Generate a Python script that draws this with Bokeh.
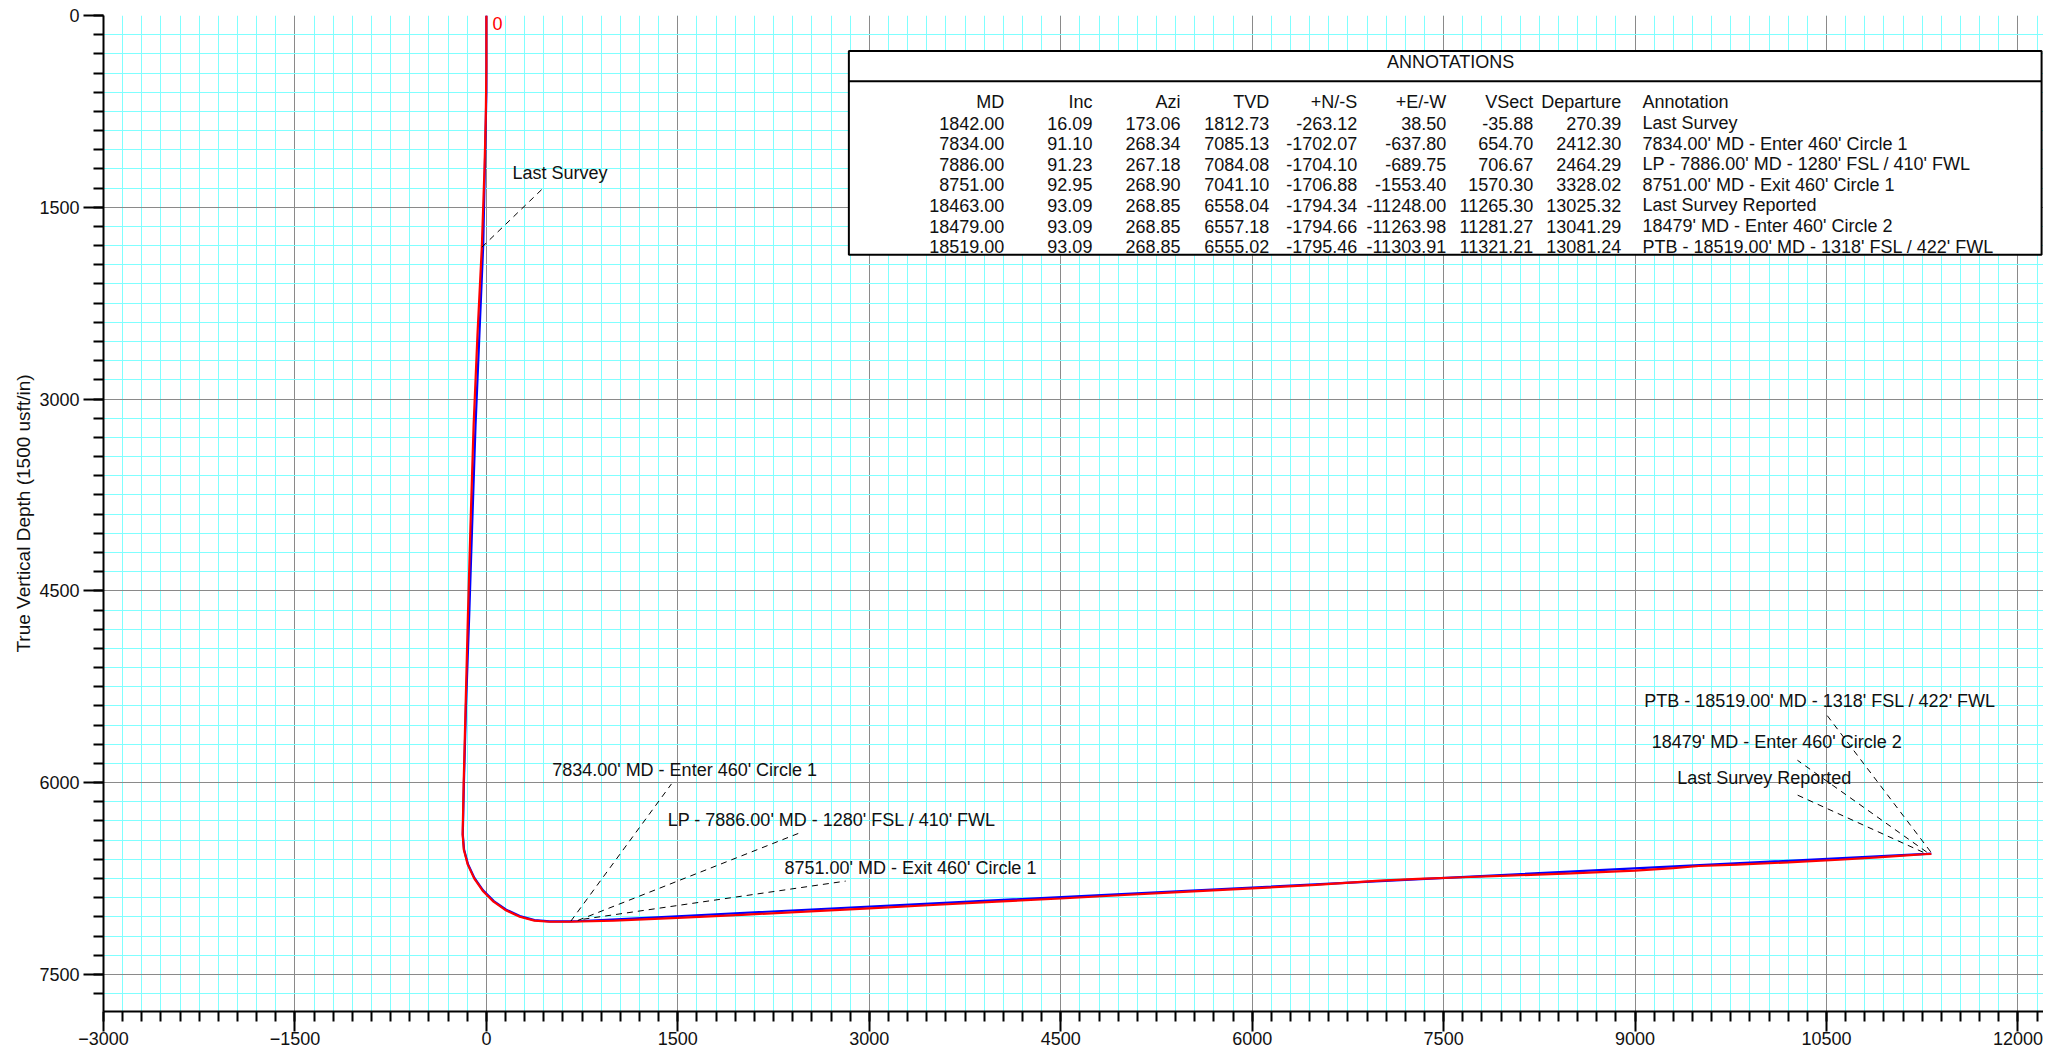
from bokeh.plotting import figure
from bokeh.models import Range1d, SingleIntervalTicker, Label
from bokeh.core.properties import value
from bokeh.embed import file_html
from bokeh.resources import INLINE

FONT = "Liberation Sans"

# ---------------- data ----------------
# planned well path (blue): vertical section vs true vertical depth
plan_vs = [0, 0, -8, -25, -55, -85, -112, -135, -160, -176, -185,
           -175, -144, -94, -26, 58, 155, 262, 377, 495,
           654.70, 706.67, 1570.30, 11281.27, 11321.21]
plan_tvd = [0, 600, 1000, 1800, 2500, 3200, 4000, 4700, 5400, 6000, 6405,
            6523, 6638, 6745, 6842, 6926, 6994, 7044, 7075, 7085,
            7085.13, 7084.08, 7041.10, 6557.18, 6555.02]

# actual well path (red)
act_vs = [0, 0, -5, -15, -35.88, -70, -100, -125, -145, -163, -178, -186,
          -177, -146, -96, -28, 56, 153, 261, 376, 495,
          654.70, 1000, 1500, 2000, 2500, 3000, 3500, 4000, 4500, 5000, 5500,
          6000, 6500, 7000, 7300, 7600, 8000, 8500, 9000, 9300, 9500, 9800,
          10200, 10600, 10900, 11100, 11265.30, 11321.21]
act_tvd = [0, 400, 800, 1200, 1812.73, 2500, 3200, 4000, 4700, 5400, 6000, 6405,
           6525, 6641, 6749, 6847, 6931, 6999, 7049, 7079, 7088,
           7088, 7079, 7058, 7034, 7009, 6983, 6957, 6931, 6906, 6879, 6852,
           6827, 6800, 6767, 6752, 6742, 6728, 6709, 6688, 6668, 6652, 6641,
           6624, 6603, 6584, 6571, 6560, 6557]

# annotation table
headers = ["MD", "Inc", "Azi", "TVD", "+N/-S", "+E/-W", "VSect", "Departure"]
md = [1842.00, 7834.00, 7886.00, 8751.00, 18463.00, 18479.00, 18519.00]
inc = [16.09, 91.10, 91.23, 92.95, 93.09, 93.09, 93.09]
azi = [173.06, 268.34, 267.18, 268.90, 268.85, 268.85, 268.85]
tvd = [1812.73, 7085.13, 7084.08, 7041.10, 6558.04, 6557.18, 6555.02]
ns = [-263.12, -1702.07, -1704.10, -1706.88, -1794.34, -1794.66, -1795.46]
ew = [38.50, -637.80, -689.75, -1553.40, -11248.00, -11263.98, -11303.91]
vsect = [-35.88, 654.70, 706.67, 1570.30, 11265.30, 11281.27, 11321.21]
departure = [270.39, 2412.30, 2464.29, 3328.02, 13025.32, 13041.29, 13081.24]
annotation = ["Last Survey",
              "7834.00' MD - Enter 460' Circle 1",
              "LP - 7886.00' MD - 1280' FSL / 410' FWL",
              "8751.00' MD - Exit 460' Circle 1",
              "Last Survey Reported",
              "18479' MD - Enter 460' Circle 2",
              "PTB - 18519.00' MD - 1318' FSL / 422' FWL"]

# on-plot annotation labels (label anchor and leader line ends, data units)
lab_x = [205, 515, 1420, 2335, 9330, 9130, 9072]
lab_y = [1235, 5902, 6295, 6668, 5960, 5685, 5360]
lead_x0 = [-35.88, 662, 716, 760, 11258, 11285, 11316]
lead_y0 = [1812.73, 7083, 7078, 7068, 6545, 6543, 6541]
lead_x1 = [440, 1450, 2450, 2815, 10245, 10272, 10505]
lead_y1 = [1355, 6010, 6395, 6770, 6085, 5825, 5475]

# ---------------- figure ----------------
X0, X1 = -3000, 12200
Y0, Y1 = 7790, 0

p = figure(width=2043, height=1047, output_backend="svg", toolbar_location=None,
           x_range=Range1d(X0, X1), y_range=Range1d(Y0, Y1),
           min_border_left=103, min_border_right=0, min_border_top=15, min_border_bottom=0,
           background_fill_color="white", border_fill_color="white")
p.outline_line_color = None

for ax in (p.xaxis[0], p.yaxis[0]):
    ax.ticker = SingleIntervalTicker(interval=1500, num_minor_ticks=10)
    ax.axis_line_width = 2
    ax.axis_line_color = "black"
    ax.major_tick_line_width = 2
    ax.minor_tick_line_width = 2
    ax.major_tick_in = 0
    ax.minor_tick_in = 0
    ax.major_tick_out = 20
    ax.minor_tick_out = 10
    ax.major_label_text_font = FONT
    ax.major_label_text_font_size = "18px"
    ax.major_label_text_color = "#111111"

p.xaxis.major_label_standoff = 0
p.yaxis.major_label_standoff = 4
p.yaxis.axis_label = "True Vertical Depth (1500 usft/in)"
p.yaxis.axis_label_text_font = FONT
p.yaxis.axis_label_text_font_size = "19px"
p.yaxis.axis_label_text_font_style = "normal"
p.yaxis.axis_label_text_color = "#111111"
p.yaxis.axis_label_standoff = 2

for g in (p.xgrid[0], p.ygrid[0]):
    g.ticker = SingleIntervalTicker(interval=1500, num_minor_ticks=10)
    g.grid_line_color = "#8a8a8a"
    g.grid_line_width = 1
    g.minor_grid_line_color = "#80ffff"
    g.minor_grid_line_width = 1

# well paths
p.line(plan_vs, plan_tvd, line_color="#0000ff", line_width=2.2)
p.line(act_vs, act_tvd, line_color="#ff0000", line_width=2.2)

p.add_layout(Label(x=0, y=0, text="0", x_offset=6, y_offset=-8, text_baseline="middle",
                   text_color="#ff0000", text_font=FONT, text_font_size="18px"))

# leader lines and labels
p.segment(x0=lead_x0, y0=lead_y0, x1=lead_x1, y1=lead_y1, line_color="black",
          line_width=1, line_dash="6 5")
p.text(x=lab_x, y=lab_y, text=annotation, text_align="left", text_baseline="middle",
       text_font=value(FONT), text_font_size="18px", text_color="#111111")

# annotation table (positions in data units)
BOX_L, BOX_R, BOX_T, BOX_B, SEP = 2840, 12185, 277, 1872, 514
p.quad(left=[BOX_L], right=[BOX_R], top=[BOX_T], bottom=[BOX_B],
       fill_color="white", line_color="black", line_width=2)
p.segment(x0=[BOX_L], y0=[SEP], x1=[BOX_R], y1=[SEP], line_color="black", line_width=2)
p.text(x=[7555], y=[362], text=["ANNOTATIONS"], text_align="center",
       text_baseline="middle", text_font=value(FONT), text_font_size="18px",
       text_color="#111111")

col_right = [4058, 4748, 5438, 6134, 6824, 7520, 8202, 8892]
ann_left = 9058
head_y = 680
row_step = 161.2

cols = [md, inc, azi, tvd, ns, ew, vsect, departure]
tx, ty, tt = [], [], []
for ci, h in enumerate(headers):
    tx.append(col_right[ci]); ty.append(head_y); tt.append(h)
    for ri, v in enumerate(cols[ci]):
        tx.append(col_right[ci]); ty.append(head_y + row_step * (ri + 1)); tt.append(f"{v:.2f}")
p.text(x=tx, y=ty, text=tt, text_align="right", text_baseline="middle",
       text_font=value(FONT), text_font_size="18px", text_color="#111111")

ax_, ay_, at_ = [ann_left], [head_y], ["Annotation"]
for ri, a in enumerate(annotation):
    ax_.append(ann_left); ay_.append(head_y + row_step * (ri + 1)); at_.append(a)
p.text(x=ax_, y=ay_, text=at_, text_align="left", text_baseline="middle",
       text_font=value(FONT), text_font_size="18px", text_color="#111111")

open("out.html", "w").write(file_html(p, INLINE))
